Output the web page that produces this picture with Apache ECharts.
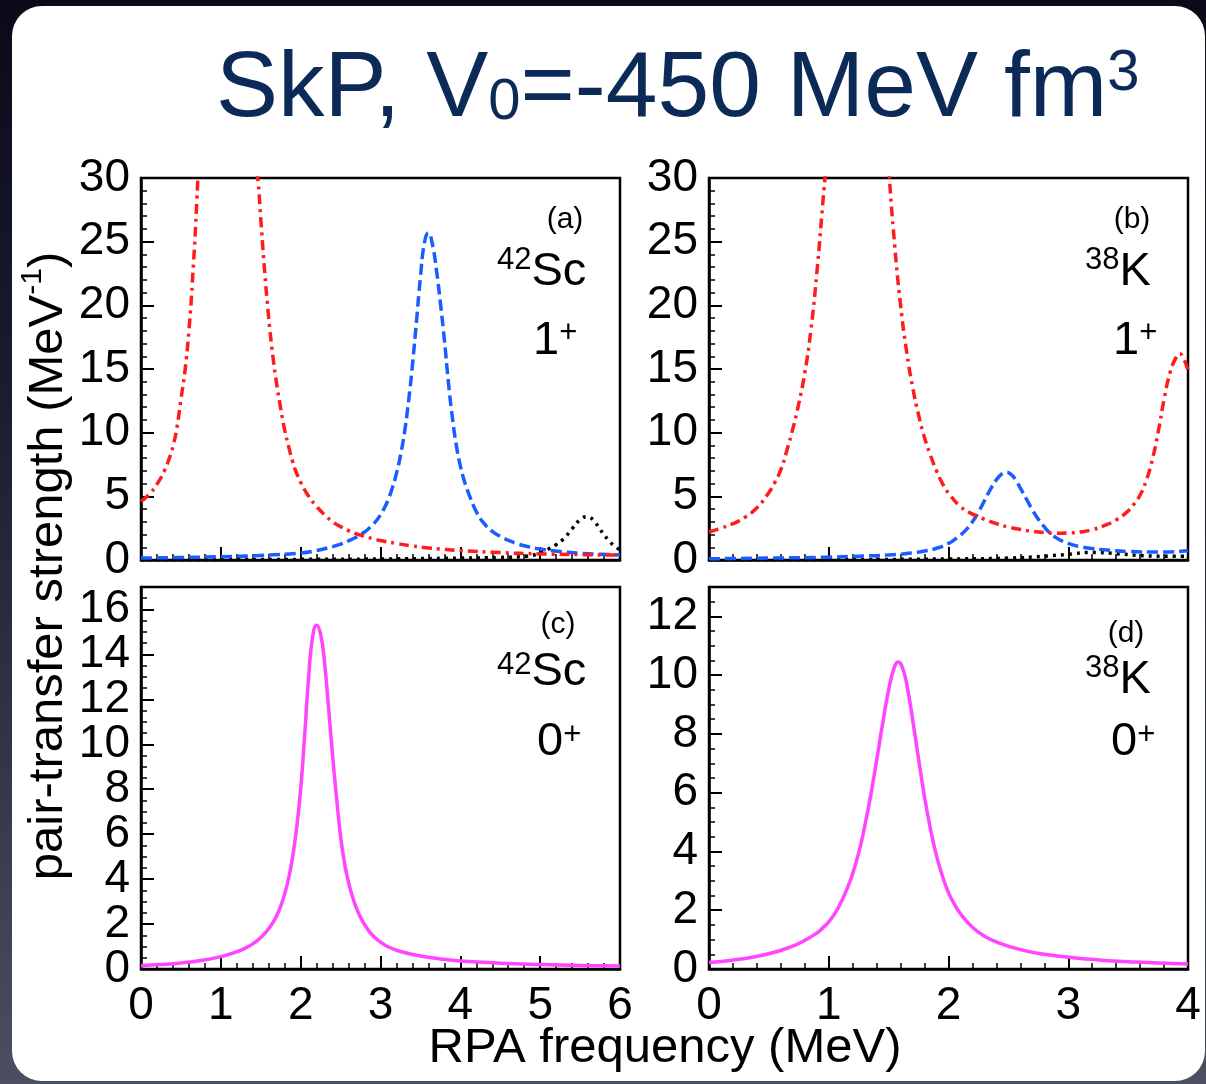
<!DOCTYPE html>
<html>
<head>
<meta charset="utf-8">
<script src="https://cdn.jsdelivr.net/npm/echarts@6/dist/echarts.min.js"></script>
<style>
  html, body { margin: 0; padding: 0; }
  body {
    width: 1206px; height: 1084px; overflow: hidden; position: relative;
    background: linear-gradient(to bottom, #0a0a19 0%, #1a1b31 35%, #33354a 70%, #4c4e61 100%);
  }
  #card {
    position: absolute; left: 12px; top: 6px; width: 1193px; height: 1075px;
    background: #ffffff; border-radius: 30px;
  }
  #chart { position: absolute; left: 0; top: 0; width: 1206px; height: 1084px; }
</style>
</head>
<body>
<div id="card"></div>
<div id="chart"></div>
<script>
// ---- x ranges (RPA frequency, MeV) and y ranges (strength, MeV^-1) ----
const xMaxSc = 6;   // panels (a), (c): 42Sc
const xMaxK = 4;    // panels (b), (d): 38K
const yMaxTop = 30; // panels (a), (b)
const yMaxC = 17;
const yMaxD = 13;

// ---- (a) 42Sc, 1+ ----
const a_dashdot = [
  [0, 4.6], [0.1, 5.15], [0.2, 5.95], [0.3, 7.1], [0.35, 7.9], [0.4, 8.9], [0.45, 10.4],
  [0.5, 12.6], [0.55, 14.8], [0.6, 18.0], [0.65, 22.5], [0.7, 28.3], [0.73, 33], [0.8, 45],
  [1.1, 120], [1.35, 50], [1.43, 32], [1.47, 29.5], [1.5, 26.8], [1.55, 22.6], [1.6, 19.0],
  [1.65, 16.1], [1.7, 13.8], [1.75, 11.9], [1.8, 10.2], [1.85, 8.9], [1.9, 7.7], [1.95, 6.8],
  [2.0, 6.1], [2.1, 5.0], [2.2, 4.2], [2.3, 3.55], [2.4, 3.0], [2.5, 2.62], [2.6, 2.3],
  [2.7, 2.05], [2.8, 1.85], [2.9, 1.68], [3.0, 1.53], [3.2, 1.3], [3.4, 1.1], [3.6, 0.95],
  [3.8, 0.83], [4.0, 0.74], [4.5, 0.58], [5.0, 0.48], [5.5, 0.42], [6.0, 0.38]
];
const a_dashed = [
  [0, 0.15], [0.5, 0.2], [1.0, 0.26], [1.5, 0.36], [2.0, 0.55], [2.2, 0.75], [2.4, 1.05],
  [2.5, 1.25], [2.6, 1.5], [2.7, 1.8], [2.8, 2.2], [2.85, 2.45], [2.9, 2.75], [2.95, 3.1],
  [3.0, 3.55], [3.05, 4.1], [3.1, 4.8], [3.15, 5.7], [3.2, 6.8], [3.25, 8.2], [3.3, 10.0],
  [3.35, 12.4], [3.4, 15.3], [3.45, 18.7], [3.5, 22.2], [3.55, 24.9], [3.6, 25.7],
  [3.65, 24.8], [3.7, 22.8], [3.75, 20.2], [3.8, 17.3], [3.85, 14.0], [3.9, 11.2],
  [3.95, 9.0], [4.0, 7.4], [4.05, 6.2], [4.1, 5.3], [4.2, 3.8], [4.3, 2.85], [4.4, 2.25],
  [4.5, 1.85], [4.6, 1.55], [4.7, 1.3], [4.8, 1.12], [5.0, 0.86], [5.25, 0.66], [5.5, 0.53],
  [5.75, 0.45], [6.0, 0.4]
];
const a_dotted = [
  [0, 0.02], [1, 0.03], [2, 0.05], [3, 0.08], [4, 0.15], [4.5, 0.2], [4.83, 0.3],
  [5.0, 0.55], [5.1, 0.85], [5.2, 1.2], [5.3, 1.7], [5.4, 2.45], [5.5, 3.15], [5.59, 3.4],
  [5.67, 3.1], [5.75, 2.4], [5.85, 1.6], [5.94, 1.05], [6.0, 0.8]
];

// ---- (b) 38K, 1+ ----
const b_dashdot = [
  [0, 2.2], [0.1, 2.5], [0.2, 2.85], [0.3, 3.35], [0.4, 4.1], [0.5, 5.3], [0.55, 6.1],
  [0.6, 7.1], [0.65, 8.6], [0.7, 10.3], [0.75, 12.3], [0.8, 14.7], [0.85, 18.0], [0.9, 22.5],
  [0.95, 28.0], [0.98, 31.5], [1.05, 42], [1.24, 90], [1.45, 40], [1.5, 31], [1.55, 24.8],
  [1.6, 20.0], [1.65, 16.4], [1.7, 13.6], [1.75, 11.4], [1.8, 9.6], [1.85, 8.2], [1.9, 7.0],
  [1.95, 6.0], [2.0, 5.25], [2.1, 4.2], [2.2, 3.6], [2.3, 3.2], [2.4, 2.85], [2.5, 2.58],
  [2.6, 2.4], [2.7, 2.25], [2.8, 2.15], [2.9, 2.1], [3.0, 2.12], [3.1, 2.2], [3.2, 2.38],
  [3.3, 2.7], [3.4, 3.15], [3.5, 3.85], [3.55, 4.4], [3.6, 5.1], [3.65, 6.2], [3.7, 7.8],
  [3.75, 10.0], [3.8, 12.6], [3.85, 14.7], [3.9, 15.9], [3.93, 16.2], [3.96, 15.9], [4.0, 14.9]
];
const b_dashed = [
  [0, 0.1], [0.5, 0.15], [1.0, 0.22], [1.25, 0.3], [1.5, 0.4], [1.7, 0.55], [1.8, 0.7],
  [1.9, 0.92], [2.0, 1.3], [2.05, 1.6], [2.1, 1.95], [2.15, 2.4], [2.2, 3.0], [2.25, 3.75],
  [2.3, 4.65], [2.35, 5.55], [2.4, 6.3], [2.45, 6.8], [2.48, 6.9], [2.52, 6.75], [2.56, 6.3],
  [2.6, 5.65], [2.65, 4.8], [2.7, 3.95], [2.75, 3.2], [2.8, 2.6], [2.85, 2.1], [2.9, 1.75],
  [3.0, 1.3], [3.1, 1.05], [3.2, 0.9], [3.35, 0.76], [3.5, 0.67], [3.75, 0.62], [4.0, 0.72]
];
const b_dotted = [
  [0, 0.02], [1, 0.03], [2, 0.08], [2.5, 0.15], [2.8, 0.3], [3.0, 0.45], [3.2, 0.6],
  [3.4, 0.5], [3.6, 0.35], [3.8, 0.3], [4.0, 0.3]
];

// ---- (c) 42Sc, 0+ ----
const c_solid = [
  [0, 0.15], [0.25, 0.2], [0.5, 0.27], [0.75, 0.38], [1.0, 0.55], [1.1, 0.65], [1.2, 0.77],
  [1.3, 0.92], [1.4, 1.12], [1.5, 1.4], [1.55, 1.58], [1.6, 1.8], [1.65, 2.05], [1.7, 2.38],
  [1.75, 2.8], [1.8, 3.35], [1.85, 4.05], [1.9, 5.0], [1.95, 6.3], [2.0, 8.0], [2.05, 10.4],
  [2.1, 13.0], [2.15, 14.8], [2.2, 15.3], [2.25, 14.9], [2.3, 13.6], [2.35, 11.6], [2.4, 9.5],
  [2.45, 7.6], [2.5, 5.9], [2.55, 4.7], [2.6, 3.85], [2.65, 3.2], [2.7, 2.7], [2.75, 2.3],
  [2.8, 1.98], [2.9, 1.5], [3.0, 1.2], [3.1, 0.98], [3.25, 0.78], [3.5, 0.58], [3.75, 0.45],
  [4.0, 0.36], [4.5, 0.26], [5.0, 0.2], [5.5, 0.16], [6.0, 0.13]
];

// ---- (d) 38K, 0+ ----
const d_solid = [
  [0, 0.22], [0.25, 0.33], [0.5, 0.52], [0.7, 0.78], [0.8, 0.98], [0.9, 1.22], [0.95, 1.4],
  [1.0, 1.6], [1.05, 1.88], [1.1, 2.25], [1.15, 2.7], [1.2, 3.25], [1.25, 3.95], [1.3, 4.85],
  [1.35, 5.9], [1.4, 7.1], [1.45, 8.35], [1.5, 9.5], [1.55, 10.3], [1.58, 10.45], [1.62, 10.2],
  [1.66, 9.5], [1.7, 8.5], [1.75, 7.15], [1.8, 5.85], [1.85, 4.75], [1.9, 3.85], [1.95, 3.15],
  [2.0, 2.6], [2.05, 2.2], [2.1, 1.88], [2.2, 1.42], [2.3, 1.12], [2.4, 0.92], [2.6, 0.66],
  [2.8, 0.5], [3.0, 0.4], [3.25, 0.31], [3.5, 0.25], [3.75, 0.2], [4.0, 0.17]
];

// ---- texts ----
const titleParts = ['SkP, V', '0', '=-450 MeV fm', '3'];
const yName = ['pair-transfer strength (MeV', '-1', ')'];
const xName = 'RPA frequency (MeV)';
const panelTags = ['(a)', '(b)', '(c)', '(d)'];
const nuclei = [['42', 'Sc'], ['38', 'K'], ['42', 'Sc'], ['38', 'K']];
const spins = [['1', '+'], ['1', '+'], ['0', '+'], ['0', '+']];

// ---------------------------------------------------------------------
const FONT = '"Liberation Sans", Arial, Helvetica, sans-serif';
const BLACK = '#000000';
const NAVY = '#0c2a58';
const RED = '#ff1c1c';
const BLUE = '#1a5cff';
const MAGENTA = '#ff45ff';

const mctx = document.createElement('canvas').getContext('2d');
function textWidth(s, size) {
  mctx.font = size + 'px ' + FONT;
  return mctx.measureText(s).width;
}
// lay out a run of text pieces; dy shifts a piece across the text direction
function textRun(x0, y0, pieces, color, vertical) {
  const out = [];
  let pos = 0;
  pieces.forEach(p => {
    const w = textWidth(p.t, p.size);
    const el = {
      type: 'text',
      silent: true,
      style: {
        text: p.t, font: p.size + 'px ' + FONT, fill: color,
        align: 'left', verticalAlign: 'middle'
      }
    };
    if (vertical) {
      el.x = x0 + (p.dy || 0);
      el.y = y0 - pos;
      el.rotation = Math.PI / 2;
    } else {
      el.x = x0 + pos;
      el.y = y0 + (p.dy || 0);
    }
    out.push(el);
    pos += w + (p.gap || 0);
  });
  return { els: out, width: pos };
}

const grids = [
  { left: 141, top: 178, width: 479, height: 382 },
  { left: 709, top: 178, width: 479, height: 382 },
  { left: 141, top: 587, width: 479, height: 382 },
  { left: 709, top: 587, width: 479, height: 382 }
].map(g => Object.assign({
  show: true, borderColor: BLACK, borderWidth: 2.5, backgroundColor: 'transparent',
  containLabel: false, outerBoundsMode: 'none'
}, g));

const labelStyle = { color: BLACK, fontFamily: FONT, fontSize: 46, lineHeight: 38, hideOverlap: false };
const everyN = step => v => (Math.abs(v / step - Math.round(v / step)) < 1e-6 ? String(v) : '');

function xAxis(gi, max, showLabels) {
  return {
    type: 'value', gridIndex: gi, position: 'bottom', min: 0, max: max, interval: 1,
    axisLine: { show: true, onZero: false, lineStyle: { color: BLACK, width: 2.5 } },
    axisTick: { show: true, inside: true, length: 13, lineStyle: { color: BLACK, width: 2 } },
    minorTick: { show: true, splitNumber: 5, length: 6, lineStyle: { color: BLACK, width: 1.5 } },
    splitLine: { show: false }, minorSplitLine: { show: false },
    axisLabel: Object.assign({ show: showLabels, margin: 18, showMinLabel: true, showMaxLabel: true }, labelStyle)
  };
}
function yAxisMain(gi, max, interval, minorSplit, showLabels) {
  return {
    type: 'value', gridIndex: gi, position: 'left', offset: 0, min: 0, max: max, interval: interval,
    axisLine: { show: true, onZero: false, lineStyle: { color: BLACK, width: 2.5 } },
    axisTick: { show: true, inside: true, length: 13, lineStyle: { color: BLACK, width: 2 } },
    minorTick: { show: minorSplit > 0, splitNumber: minorSplit || 5, length: 6, lineStyle: { color: BLACK, width: 1.5 } },
    splitLine: { show: false }, minorSplitLine: { show: false },
    axisLabel: Object.assign({
      show: showLabels, margin: 11, showMinLabel: true, showMaxLabel: true,
      formatter: everyN(interval)
    }, labelStyle)
  };
}
// fine ticks every 0.5 for the lower panels (their tops are not a whole major step);
// this axis also carries the labels at every second unit
function yAxisFine(gi, max) {
  return {
    type: 'value', gridIndex: gi, position: 'left', offset: 0, min: 0, max: max, interval: 0.5,
    axisLine: { show: true, onZero: false, lineStyle: { color: BLACK, width: 2.5 } },
    axisTick: { show: true, inside: true, length: 6, lineStyle: { color: BLACK, width: 1.5 } },
    splitLine: { show: false },
    axisLabel: Object.assign({
      show: true, margin: 11, showMinLabel: true, showMaxLabel: true,
      formatter: everyN(2)
    }, labelStyle)
  };
}

const xAxes = [
  xAxis(0, xMaxSc, false),
  xAxis(1, xMaxK, false),
  xAxis(2, xMaxSc, true),
  xAxis(3, xMaxK, true)
];
const yAxes = [
  yAxisMain(0, yMaxTop, 5, 5, true),
  yAxisMain(1, yMaxTop, 5, 5, true),
  yAxisFine(2, yMaxC),
  Object.assign(yAxisMain(2, yMaxC, 2, 0, false), { axisLine: { show: false } }),
  yAxisFine(3, yMaxD),
  Object.assign(yAxisMain(3, yMaxD, 2, 0, false), { axisLine: { show: false } })
];

function line(data, xi, yi, color, type, width) {
  return {
    type: 'line', data: data, xAxisIndex: xi, yAxisIndex: yi,
    showSymbol: false, smooth: 0.5, clip: true,
    lineStyle: { color: color, width: width, type: type, cap: 'butt', join: 'round' },
    emphasis: { disabled: true }, silent: true
  };
}
const DASHDOT = [10, 5, 3, 5];
const DASH = [11, 5];
const DOT = [3, 5];

const series = [
  line(a_dotted, 0, 0, BLACK, DOT, 3.5),
  line(a_dashed, 0, 0, BLUE, DASH, 3.5),
  line(a_dashdot, 0, 0, RED, DASHDOT, 3.5),
  line(b_dotted, 1, 1, BLACK, DOT, 3.5),
  line(b_dashed, 1, 1, BLUE, DASH, 3.5),
  line(b_dashdot, 1, 1, RED, DASHDOT, 3.5),
  line(c_solid, 2, 2, MAGENTA, 'solid', 3.5),
  line(d_solid, 3, 4, MAGENTA, 'solid', 3.5)
];

// ---- text elements ----
const graphics = [];
// title
graphics.push(...textRun(216, 90, [
  { t: titleParts[0], size: 93 },
  { t: titleParts[1], size: 58, dy: 13 },
  { t: titleParts[2], size: 93 },
  { t: titleParts[3], size: 58, dy: -16 }
], NAVY, false).els);

// shared y-axis name (reads bottom to top)
{
  const pieces = [
    { t: yName[0], size: 49 },
    { t: yName[1], size: 30, dy: -15 },
    { t: yName[2], size: 49 }
  ];
  const total = pieces.reduce((s, p) => s + textWidth(p.t, p.size), 0);
  graphics.push(...textRun(48, 566 + total / 2, pieces, BLACK, true).els);
}
// shared x-axis name
graphics.push({
  type: 'text', silent: true, x: 665, y: 1048,
  style: { text: xName, font: '49px ' + FONT, fill: BLACK, align: 'center', verticalAlign: 'middle' }
});

// panel annotations: tag, nucleus, spin-parity
const tagPos = [[565, 220], [1132, 220], [558, 625], [1126, 634]];
const nucPos = [[497, 260, 272], [1085, 260, 272], [497, 665, 672], [1085, 668, 680]];
const spinPos = [[533, 341, 333], [1113, 341, 333], [537, 742, 735], [1111, 742, 735]];
for (let i = 0; i < 4; i++) {
  graphics.push({
    type: 'text', silent: true, x: tagPos[i][0], y: tagPos[i][1],
    style: { text: panelTags[i], font: '30px ' + FONT, fill: BLACK, align: 'center', verticalAlign: 'middle' }
  });
  const [nx, ny1, ny2] = nucPos[i];
  graphics.push(...textRun(nx, ny2, [
    { t: nuclei[i][0], size: 31, dy: ny1 - ny2 },
    { t: nuclei[i][1], size: 47 }
  ], BLACK, false).els);
  const [sx, sy1, sy2] = spinPos[i];
  graphics.push(...textRun(sx, sy1, [
    { t: spins[i][0], size: 47 },
    { t: spins[i][1], size: 31, dy: sy2 - sy1 }
  ], BLACK, false).els);
}

const chart = echarts.init(document.getElementById('chart'), null, { renderer: 'canvas' });
chart.setOption({
  animation: false,
  backgroundColor: 'transparent',
  grid: grids,
  xAxis: xAxes,
  yAxis: yAxes,
  series: series,
  graphic: { elements: graphics }
});
</script>
</body>
</html>
